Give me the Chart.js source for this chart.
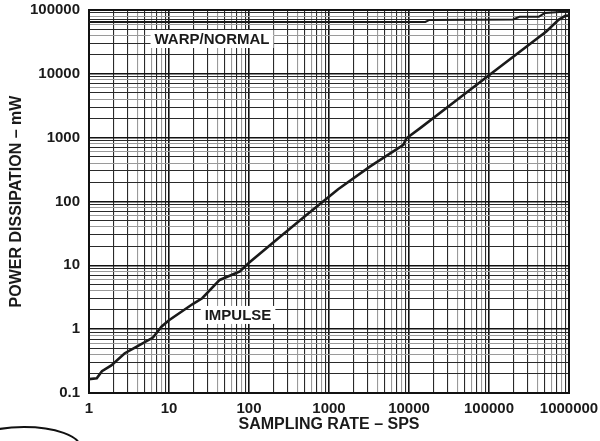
<!DOCTYPE html>
<html>
<head>
<meta charset="utf-8">
<script src="https://cdn.jsdelivr.net/npm/chart.js@4/dist/chart.umd.min.js"></script>
<style>
  html, body { margin: 0; padding: 0; background: #fff; }
  #wrap { width: 600px; height: 441px; position: relative; }
</style>
</head>
<body>
<div id="wrap"><canvas id="c" width="600" height="441"></canvas></div>
<script>
// ---- data ----
const impulseRate  = [1, 1.25, 1.45, 1.9, 2.8, 3.8, 6.3, 8.1, 10, 20, 26, 43, 77, 100, 245, 500, 1300, 3240, 8500, 9300, 13800, 39600, 100000, 520000, 740000, 900000, 1000000];
const impulsePower = [0.165, 0.17, 0.22, 0.27, 0.42, 0.52, 0.74, 1.1, 1.38, 2.5, 3.05, 5.9, 8.0, 11, 28, 59, 156, 352, 771, 980, 1410, 3900, 9500, 46000, 70000, 81000, 82000];

const warpRate  = [1, 16000, 18000, 200000, 240000, 420000, 500000, 840000, 1000000];
const warpPower = [65000, 65000, 70000, 71000, 78500, 78500, 90000, 94000, 94000];

const xTickLabels = ['1', '10', '100', '1000', '10000', '100000', '1000000'];
const yTickLabels = ['0.1', '1', '10', '100', '1000', '10000', '100000'];

const seriesNames = ['IMPULSE', 'WARP/NORMAL'];
// label anchor points (data units)
const labelAnchors = [
  { text: 'WARP/NORMAL', x: 34.5, y: 35100 },
  { text: 'IMPULSE', x: 72.9, y: 1.67 }
];

// ---- helpers ----
function logTicks(labels) {
  const decs = labels.map(Number);
  const out = [];
  for (let i = 0; i < decs.length - 1; i++) {
    for (let m = 1; m <= 9; m++) out.push(decs[i] * m);
  }
  out.push(decs[decs.length - 1]);
  return out;
}
function mantissa(v) {
  const e = Math.floor(Math.log10(v) + 1e-9);
  return Math.round(v / Math.pow(10, e));
}
const darkMults = [1, 2, 3, 5, 7, 9];
function gridColor(ctx) {
  if (!ctx.tick) return '#222';
  const m = mantissa(ctx.tick.value);
  if (m === 1) return '#111';
  return darkMults.includes(m) ? '#2a2a2a' : '#9a9a9a';
}
function gridWidth(ctx) {
  if (!ctx.tick) return 1;
  const m = mantissa(ctx.tick.value);
  return m === 1 ? 1.6 : 1.1;
}
function labelFor(labels) {
  return function (val) {
    for (const l of labels) {
      if (Math.abs(Math.log10(val) - Math.log10(Number(l))) < 1e-6) return l;
    }
    return '';
  };
}

const FONT = "'Liberation Sans', Arial, Helvetica, sans-serif";

const decoPlugin = {
  id: 'deco',
  beforeDatasetsDraw(chart) {
    const { ctx, chartArea: a } = chart;
    ctx.save();
    ctx.strokeStyle = '#111';
    ctx.lineWidth = 2;
    ctx.strokeRect(a.left, a.top, a.right - a.left, a.bottom - a.top);
    ctx.restore();
  },
  afterDatasetsDraw(chart) {
    const { ctx } = chart;
    const xs = chart.scales.x, ys = chart.scales.y;
    ctx.save();
    ctx.font = "bold 15px " + FONT;
    ctx.textAlign = 'center';
    ctx.textBaseline = 'middle';
    for (const l of labelAnchors) {
      const px = xs.getPixelForValue(l.x);
      const py = ys.getPixelForValue(l.y);
      const w = ctx.measureText(l.text).width;
      ctx.fillStyle = '#fff';
      ctx.fillRect(px - w / 2 - 4, py - 9, w + 8, 18);
      ctx.fillStyle = '#1a1a1a';
      ctx.fillText(l.text, px, py + 1);
    }
    ctx.restore();
  },
  afterDraw(chart) {
    // partial oval outline seen at the bottom-left corner of the reference
    const { ctx } = chart;
    ctx.save();
    ctx.strokeStyle = '#111';
    ctx.lineWidth = 2;
    ctx.beginPath();
    ctx.ellipse(24, 447, 56, 20, 0, Math.PI, 2 * Math.PI);
    ctx.stroke();
    ctx.restore();
  }
};

new Chart(document.getElementById('c'), {
  type: 'line',
  data: {
    datasets: [
      {
        label: seriesNames[0],
        data: impulseRate.map((r, i) => ({ x: r, y: impulsePower[i] })),
        borderColor: '#1a1a1a',
        borderWidth: 2.6,
        pointRadius: 0,
        tension: 0,
        fill: false
      },
      {
        label: seriesNames[1],
        data: warpRate.map((r, i) => ({ x: r, y: warpPower[i] })),
        borderColor: '#1a1a1a',
        borderWidth: 2,
        pointRadius: 0,
        tension: 0,
        fill: false
      }
    ]
  },
  options: {
    responsive: false,
    animation: false,
    devicePixelRatio: 1,
    layout: { padding: { top: 10, right: 31, bottom: 0, left: 0 } },
    plugins: { legend: { display: false }, tooltip: { enabled: false } },
    scales: {
      x: {
        type: 'logarithmic',
        min: 1,
        max: 1000000,
        afterBuildTicks(axis) {
          axis.ticks = logTicks(xTickLabels).map(v => ({ value: v }));
        },
        afterFit(scale) {
          scale.height = 48;
          scale.paddingLeft = 0; scale.paddingRight = 0;
        },
        ticks: {
          autoSkip: false,
          maxRotation: 0,
          minRotation: 0,
          padding: 7,
          color: '#1a1a1a',
          font: { family: FONT, size: 15, weight: 'bold' },
          callback: labelFor(xTickLabels)
        },
        grid: { color: gridColor, lineWidth: gridWidth, drawTicks: false, tickLength: 0 },
        border: { display: false },
        title: {
          display: true,
          text: 'SAMPLING RATE – SPS',
          color: '#1a1a1a',
          font: { family: FONT, size: 16, weight: 'bold' },
          padding: { top: 0, bottom: 7 }
        }
      },
      y: {
        type: 'logarithmic',
        min: 0.1,
        max: 100000,
        afterBuildTicks(axis) {
          axis.ticks = logTicks(yTickLabels).map(v => ({ value: v }));
        },
        afterFit(scale) {
          scale.width = 89;
          scale.paddingTop = 0; scale.paddingBottom = 0;
        },
        ticks: {
          autoSkip: false,
          padding: 9,
          color: '#1a1a1a',
          font: { family: FONT, size: 15, weight: 'bold' },
          callback: labelFor(yTickLabels)
        },
        grid: { color: gridColor, lineWidth: gridWidth, drawTicks: false, tickLength: 0 },
        border: { display: false },
        title: {
          display: true,
          text: 'POWER DISSIPATION – mW',
          color: '#1a1a1a',
          font: { family: FONT, size: 16, weight: 'bold' },
          padding: { top: 7, bottom: 0 }
        }
      }
    }
  },
  plugins: [decoPlugin]
});
</script>
</body>
</html>
